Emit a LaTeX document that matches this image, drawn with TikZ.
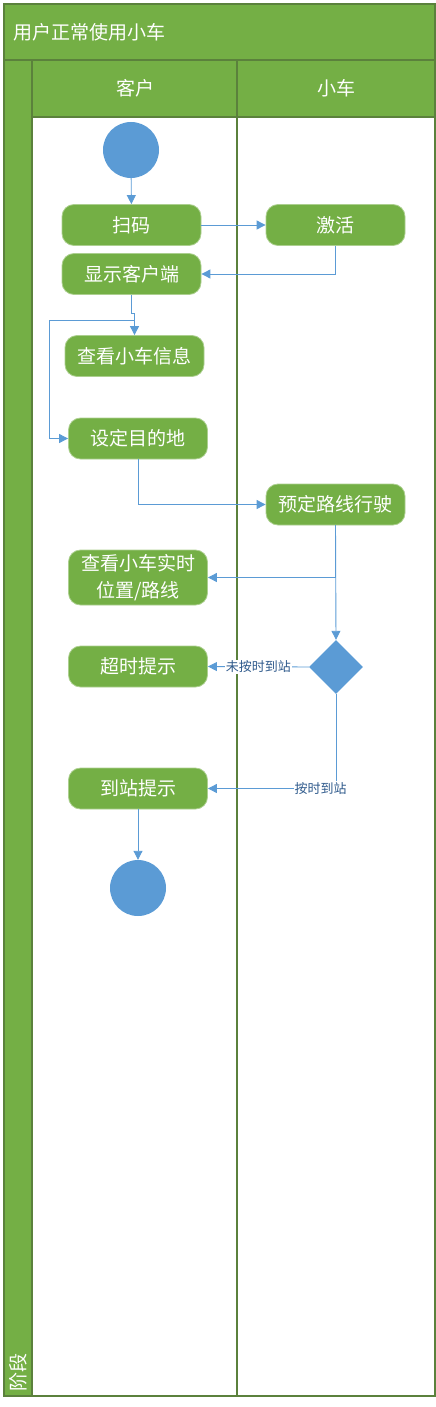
\documentclass[tikz,border=0pt]{standalone}
\usepackage{fontspec}
\newfontfamily\cjk{Noto Sans CJK SC}
\usetikzlibrary{shapes.geometric,arrows.meta}
\definecolor{lanegreen}{HTML}{74AF45}
\definecolor{framegreen}{HTML}{5B813C}
\definecolor{flowblue}{HTML}{5B9BD5}
\definecolor{labelblue}{HTML}{2F5A8C}
\begin{document}
\begin{tikzpicture}[x=1pt,y=-1pt,
	act/.style={draw=lanegreen!60!white, line width=0.8pt, fill=lanegreen, rounded corners=12pt,
		minimum width=139pt, minimum height=41pt, inner sep=2pt, align=center,
		text=white, font=\cjk\fontsize{19}{27}\selectfont},
	endpoint/.style={circle, fill=flowblue, minimum size=56pt, inner sep=0pt},
	choice/.style={diamond, fill=flowblue, minimum width=54pt, minimum height=54pt, inner sep=0pt},
	flow/.style={draw=flowblue, line width=0.9pt, -{Triangle[length=9pt,width=9pt]}},
	guard/.style={fill=white, inner sep=1pt, text=labelblue, font=\cjk\fontsize{13}{15}\selectfont},
	lanetext/.style={text=white, font=\cjk\fontsize{19}{22}\selectfont}]
	\useasboundingbox (0,0) rectangle (436,1407);
	%Pool frame
	\fill[lanegreen] (4,4) rectangle (435,60);
	\fill[lanegreen] (32,60) rectangle (435,117);
	\fill[lanegreen] (4,60) rectangle (32,1396);
	\draw[framegreen, line width=1.5pt] (4,4) rectangle (435,1396);
	\draw[framegreen, line width=1.5pt] (4,60) -- (435,60);
	\draw[framegreen, line width=1.5pt] (32,117) -- (435,117);
	\draw[framegreen, line width=1.5pt] (32,60) -- (32,1396);
	\draw[framegreen, line width=1.5pt] (237,60) -- (237,1396);
	\node[lanetext, anchor=west] (pool) at (10,32) {用户正常使用小车};
	\node[lanetext] (client) at (135,88) {客户};
	\node[lanetext] (cart) at (336,88) {小车};
	\node[lanetext, rotate=90, anchor=west] (stage) at (18,1395) {阶段};

	%Activities
	\node[endpoint] (start) at (131,150) {};
	\node[act] (scan) at (131.5,225) {扫码};
	\node[act] (activate) at (335.5,225) {激活};
	\node[act] (disp) at (131.5,274) {显示客户端};
	\node[act] (info) at (134.5,356) {查看小车信息};
	\node[act] (dest) at (138,438.5) {设定目的地};
	\node[act] (drive) at (335.5,504.5) {预定路线行驶};
	\node[act, minimum height=55pt] (track) at (138,577.5) {查看小车实时\\位置/路线};
	\node[choice] (arrive) at (336,667) {};
	\node[act] (late) at (138,666.5) {超时提示};
	\node[act] (ontime) at (138,788.5) {到站提示};
	\node[endpoint] (stop) at (138,888) {};

	%Flows
	\draw[flow] (start) -- (scan);
	\draw[flow] (scan) -- (activate);
	\draw[flow] (activate.south) |- (disp.east);
	\draw[flow] (disp.south) -- ++(0,19) -| (info.north);
	\coordinate (fork) at (134.5,320);
	\draw[flow] (fork) -- (49,320) |- (dest.west);
	\draw[flow] (dest.south) |- (drive.west);
	\draw[flow] (drive.south) |- (track.east);
	\draw[flow] (drive.south) -- (arrive.north);
	\draw[flow] (arrive.west) -- (late.east) node[guard, pos=0.5] {未按时到站};
	\draw[flow] (arrive.south) |- (ontime.east) node[guard, pos=0.56] {按时到站};
	\draw[flow] (ontime) -- (stop);
\end{tikzpicture}
\end{document}
